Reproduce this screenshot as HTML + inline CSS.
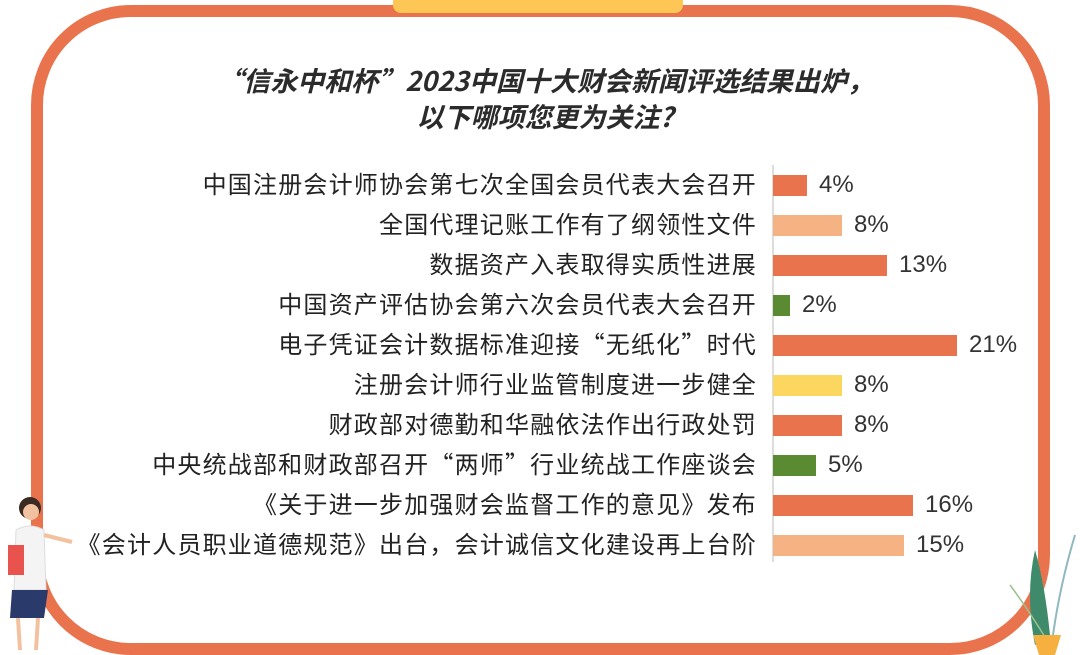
<!DOCTYPE html>
<html><head><meta charset="utf-8"><style>
body{margin:0;width:1080px;height:655px;background:#fff;position:relative;overflow:hidden;font-family:"Noto Sans CJK SC","Liberation Sans",sans-serif;}
.frame{position:absolute;left:31px;top:5px;width:995px;height:626px;border:12px solid #E8734D;border-radius:100px;}
.tab{position:absolute;left:393px;top:0;width:290px;height:13px;background:#FEC655;border-radius:0 0 8px 8px;}
.title{position:absolute;left:0;width:1090px;text-align:center;top:62px;font-size:27px;font-weight:bold;font-style:italic;color:#2b2b2b;line-height:36px;}
.axis{position:absolute;left:772px;top:165px;width:2px;height:397px;background:#ddd;}
.lab{position:absolute;right:323px;width:720px;text-align:right;font-size:24px;letter-spacing:1.2px;color:#222;line-height:30px;white-space:nowrap;}
.bar{position:absolute;left:773px;height:21px;}
.val{position:absolute;font-size:24px;color:#333;line-height:30px;font-family:"Liberation Sans",sans-serif;}
</style></head><body>
<div class="frame"></div>
<div class="tab"></div>
<div class="title">“信永中和杯”2023中国十大财会新闻评选结果出炉，<br>以下哪项您更为关注?</div>
<div class="axis"></div>
<div id="c"></div>
<script>
var d=[["中国注册会计师协会第七次全国会员代表大会召开",4,"#E8734D"],["全国代理记账工作有了纲领性文件",8,"#F5B384"],["数据资产入表取得实质性进展",13,"#E8734D"],["中国资产评估协会第六次会员代表大会召开",2,"#5A8A32"],["电子凭证会计数据标准迎接“无纸化”时代",21,"#E8734D"],["注册会计师行业监管制度进一步健全",8,"#FCD75F"],["财政部对德勤和华融依法作出行政处罚",8,"#E8734D"],["中央统战部和财政部召开“两师”行业统战工作座谈会",5,"#5A8A32"],["《关于进一步加强财会监督工作的意见》发布",16,"#E8734D"],["《会计人员职业道德规范》出台，会计诚信文化建设再上台阶",15,"#F5B384"]];
var w={4:34,8:69,13:114,2:17,21:184,5:43,16:140,15:131};
var h="";
d.forEach(function(r,i){var cy=185+i*40;
h+='<div class="lab" style="top:'+(cy-17)+'px">'+r[0]+'</div>';
h+='<div class="bar" style="top:'+(cy-10)+'px;width:'+w[r[1]]+'px;background:'+r[2]+'"></div>';
h+='<div class="val" style="top:'+(cy-15)+'px;left:'+(773+w[r[1]]+12)+'px">'+r[1]+'%</div>';});
document.getElementById("c").innerHTML=h;
</script>
<svg style="position:absolute;left:0;top:490px" width="80" height="165">
<circle cx="30" cy="18" r="11" fill="#3a2a22"/>
<circle cx="31" cy="22" r="8" fill="#f2c2a0"/>
<path d="M16 40 Q30 32 44 40 L46 100 L14 100 Z" fill="#f4f4f4" stroke="#ddd"/>
<path d="M44 45 L72 52" stroke="#f2c2a0" stroke-width="4"/>
<rect x="8" y="55" width="16" height="30" fill="#E8534D"/>
<path d="M12 100 L48 100 L44 128 L10 128 Z" fill="#2a3a6a"/>
<path d="M18 128 L20 160 M38 128 L36 160" stroke="#f2c2a0" stroke-width="4"/>
</svg>
<svg style="position:absolute;left:1005px;top:525px" width="75" height="130">
<path d="M30 120 Q20 70 30 25 Q40 60 45 110 Z" fill="#3f8a6a"/>
<path d="M48 110 Q55 60 70 10" stroke="#8fb8c0" fill="none" stroke-width="2"/>
<path d="M40 112 Q20 80 5 60" stroke="#9bc090" fill="none" stroke-width="1.5"/>
<path d="M28 110 L56 110 L50 130 L34 130 Z" fill="#F5B040"/>
</svg>
</body></html>
